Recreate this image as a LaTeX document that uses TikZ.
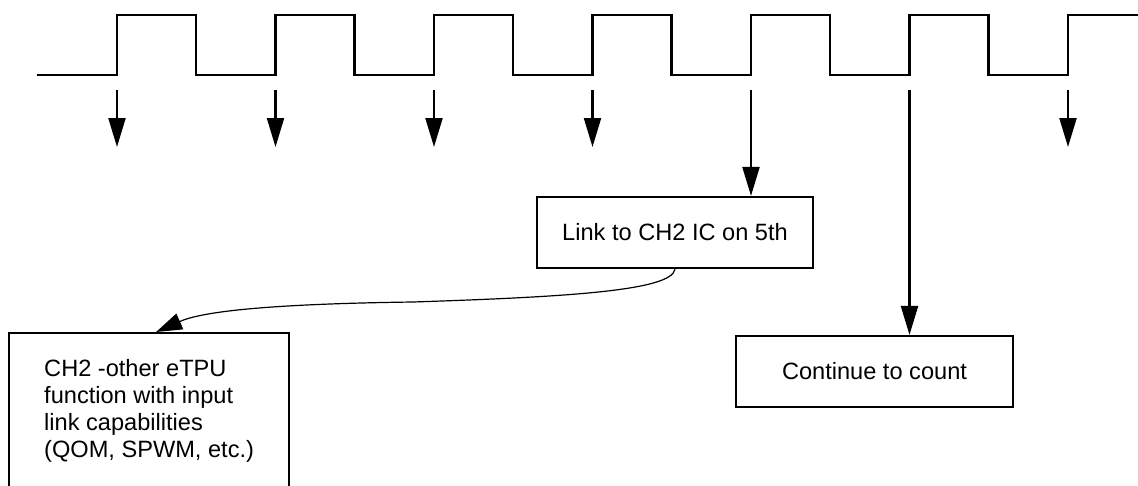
\documentclass[tikz,border=0pt]{standalone}
\usepackage{fontspec}
\setmainfont{Liberation Sans}
\usetikzlibrary{arrows.meta}

\begin{document}
\begin{tikzpicture}
[x=1pt,y=-1pt,
pulse/.style={line width=2.4pt,line join=miter},
edgearrow/.style={line width=2.2pt,-{Triangle[length=29pt,width=17pt]}},
linkcurve/.style={line width=1.2pt,-{Triangle[length=26pt,width=17pt]}},
box/.style={draw=black,line width=2.2pt,inner sep=0pt,font=\fontsize{23.6}{27}\selectfont}]
					\useasboundingbox (0,0) rectangle (1138,485);
					% clock waveform
					\draw[pulse] (37,75)
						foreach \k in {0,...,5}{ -- ({117+158.5*\k},75) -- ({117+158.5*\k},15) -- ({196+158.5*\k},15) -- ({196+158.5*\k},75) }
						-- (1068,75) -- (1068,15) -- (1138,15);
					% rising edges
					\foreach \i in {1,...,7}{
						\coordinate (e\i) at ({117+158.5*(\i-1)},90);
						\coordinate (t\i) at ({117+158.5*(\i-1)},147);
					}
					\node[box,minimum width=276pt,minimum height=71pt] (link) at (675,232.5) {Link to CH2 IC on 5th};
					\node[box,minimum width=277pt,minimum height=71pt] (cont) at (874.5,371.5) {Continue to count};
					\node[box,anchor=north west,align=left,minimum width=280pt,inner xsep=34pt,inner ysep=26pt] (other) at (8,332)
						{CH2 -other eTPU\\function with input\\link capabilities\\(QOM, SPWM, etc.)};
					\foreach \i in {1,2,3,4,7}
						\draw[edgearrow] (e\i) -- (t\i);
					\draw[edgearrow] (e5) -- (e5 |- link.north);
					\draw[edgearrow] (e6) -- (e6 |- cont.north);
					\draw[linkcurve] (link.south) .. controls +(-3,22) and +(150,-5) .. (413,302)
						.. controls +(-150,2) and +(45,-20) .. ([xshift=7pt]other.north);
				\end{tikzpicture}
\end{document}
